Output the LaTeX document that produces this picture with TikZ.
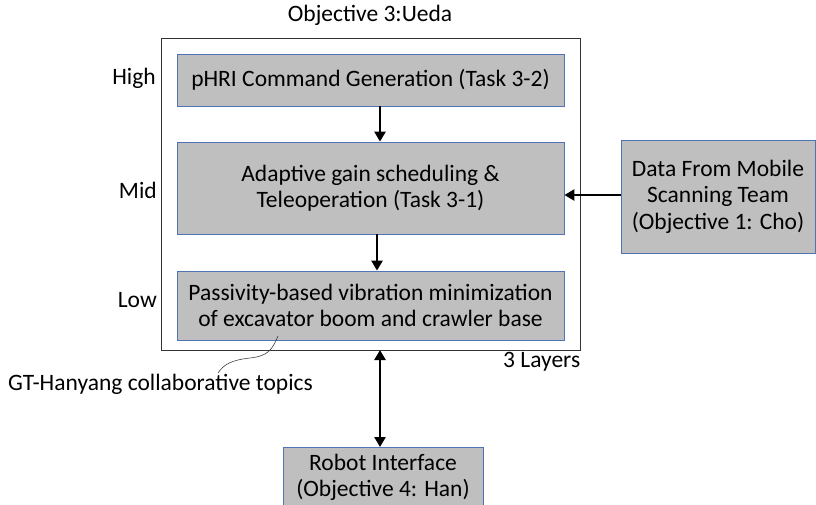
\documentclass[tikz,border=0pt]{standalone}
\usepackage{fontspec}
\setmainfont{Carlito}
\usetikzlibrary{arrows.meta}
\definecolor{boxfill}{RGB}{191,191,191}
\definecolor{boxedge}{RGB}{80,115,180}
\tikzset{
  layerbox/.style={draw=boxedge, fill=boxfill, line width=0.8pt, align=center, inner sep=0pt, font=\fontsize{23.5}{26.5}\selectfont},
  flow/.style={line width=2.8pt, -{Triangle[width=11pt,length=10pt]}},
  flow2/.style={line width=2.8pt, {Triangle[width=11pt,length=10pt]}-{Triangle[width=11pt,length=10pt]}},
  lbl/.style={font=\fontsize{23.5}{26.5}\selectfont, inner sep=0pt}
}
\begin{document}
\begin{tikzpicture}[x=1pt,y=-1pt]
\useasboundingbox (0,0) rectangle (816,504);
% outer frame of the three layers
\draw[line width=0.9pt, draw=black!80] (161,38) rectangle (580,350);
\coordinate (frameS) at (380,350);
\node[lbl] (title) at (370,15) {Objective 3:Ueda};

% layer boxes
\node[layerbox, minimum width=387pt, minimum height=52pt] (high) at (370.5,80) {pHRI Command Generation (Task 3-2)};
\node[layerbox, minimum width=387pt, minimum height=92pt] (mid) at (370.5,188) {Adaptive gain scheduling \&\\Teleoperation (Task 3-1)};
\node[layerbox, minimum width=387pt, minimum height=69pt] (low) at (370.5,305.5) {Passivity-based vibration minimization\\of excavator boom and crawler base};

% level labels
\node[lbl, anchor=east] (lhigh) at (156,78) {High};
\node[lbl, anchor=east] (lmid) at (157,190) {Mid};
\node[lbl, anchor=east] (llow) at (157,300) {Low};

% external boxes
\node[layerbox, minimum width=194pt, minimum height=113pt] (data) at (718,196.5) {Data From Mobile\\Scanning Team\\(Objective 1: Cho)};
\node[layerbox, minimum width=200pt, minimum height=60pt, anchor=north] (robot) at (383,447) {Robot Interface\\(Objective 4: Han)};

% annotations
\node[lbl, anchor=west] (layers) at (503,362) {3 Layers};
\node[lbl, anchor=west] (collab) at (8,384) {GT-Hanyang collaborative topics};
\coordinate (tagA) at (278,336);
\coordinate (tagB) at (218,373);
\draw[line width=0.6pt, black!75] (tagA) .. controls (272,350) and (268,356) .. (250,358) .. controls (232,360) and (224,364) .. (tagB);

% connectors
\draw[flow] (high.south -| 380,0) -- (mid.north -| 380,0);
\draw[flow] (mid.south -| 377,0) -- (low.north -| 377,0);
\draw[flow] (data.west |- 0,195) -- (mid.east |- 0,195);
\draw[flow2] (frameS) -- (robot.north -| frameS);
\end{tikzpicture}
\end{document}
